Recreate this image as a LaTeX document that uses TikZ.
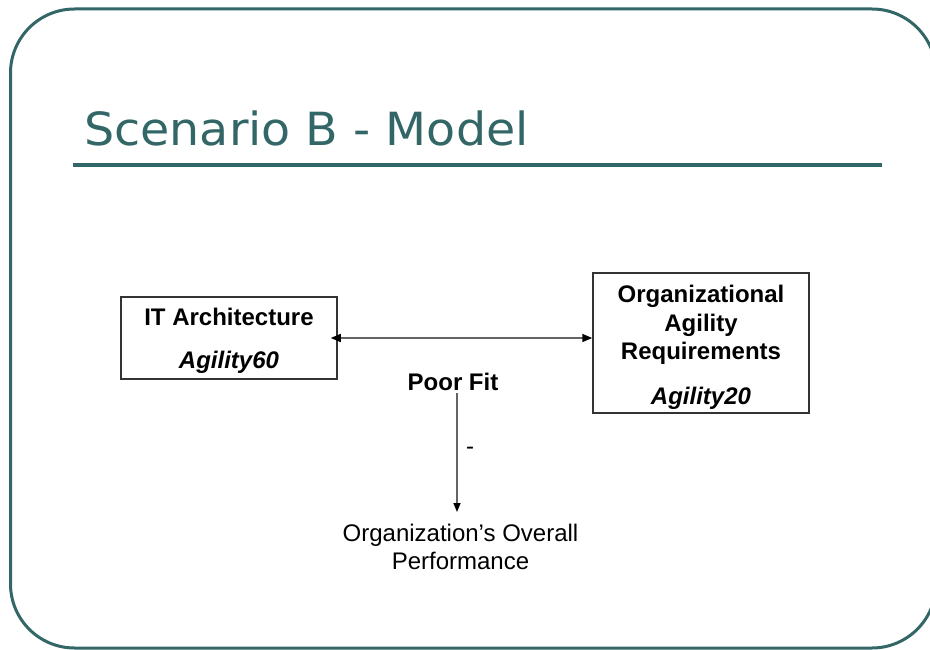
\documentclass[tikz,border=0pt]{standalone}
\usepackage{fontspec}
\setmainfont{Liberation Sans}
\newfontfamily\titlefont[FakeStretch=1.04]{DejaVu Sans}
\usetikzlibrary{arrows.meta}
\definecolor{slideteal}{RGB}{51,102,102}
\definecolor{boxline}{RGB}{51,51,51}
\definecolor{linkgray}{RGB}{100,100,100}
\begin{document}
\begin{tikzpicture}[x=1pt,y=-1pt,
  plaintxt/.style={inner sep=0pt, anchor=base, font=\fontsize{24}{28.5}\selectfont},
  boldtxt/.style={inner sep=0pt, anchor=base, font=\fontsize{24}{28.5}\selectfont\bfseries},
  bolditxt/.style={inner sep=0pt, anchor=base, font=\fontsize{24}{28.5}\selectfont\bfseries\itshape},
  box/.style={draw=boxline, line width=1.5pt, rectangle, inner sep=0pt},
  link/.style={draw=linkgray, line width=1.5pt},
  tip/.style={Triangle[length=10pt,width=8pt,color=black]}
]
\useasboundingbox (0,0) rectangle (930,650);
% slide frame
\draw[slideteal, line width=3pt, rounded corners=64pt] (10.5,9) rectangle (936,648);
% title and rule
\node[anchor=base west, inner sep=0pt, text=slideteal, font=\titlefont\fontsize{45.7}{50}\selectfont] (title) at (84,145.5) {Scenario B - Model};
\draw[slideteal, line width=4pt] (73,164.7) -- (882,164.7);
% boxes
\node[box, minimum width=216pt, minimum height=82pt] (itbox) at (229,338) {};
\node[box, minimum width=216pt, minimum height=140pt] (orgbox) at (701,343) {};
% box texts
\node[boldtxt] (itname) at (229,325) {IT Architecture};
\node[bolditxt] (itval) at (229,368) {Agility60};
\node[boldtxt] (orgA) at (701,302.5) {Organizational};
\node[boldtxt] (orgB) at (701,331) {Agility};
\node[boldtxt] (orgC) at (701,359) {Requirements};
\node[bolditxt] (orgval) at (701,404) {Agility20};
% fit and outcome
\node[boldtxt] (poorfit) at (453,390) {Poor Fit};
\node[plaintxt] (minus) at (470,454) {-};
\node[plaintxt] (perfA) at (460.5,541) {Organization’s Overall};
\node[plaintxt] (perfB) at (460.5,569) {Performance};
\coordinate (perftop) at (457,512);
% connectors
\draw[link, {Triangle[length=10pt,width=8pt,color=black]}-{Triangle[length=10pt,width=8pt,color=black]}, shorten <=-7pt]
  (itbox.east) -- (itbox.east -| orgbox.west);
\draw[link, -{Triangle[length=9pt,width=7pt,color=black]}, shorten <=3pt]
  (poorfit.south -| perftop) -- (perftop);
\end{tikzpicture}
\end{document}
